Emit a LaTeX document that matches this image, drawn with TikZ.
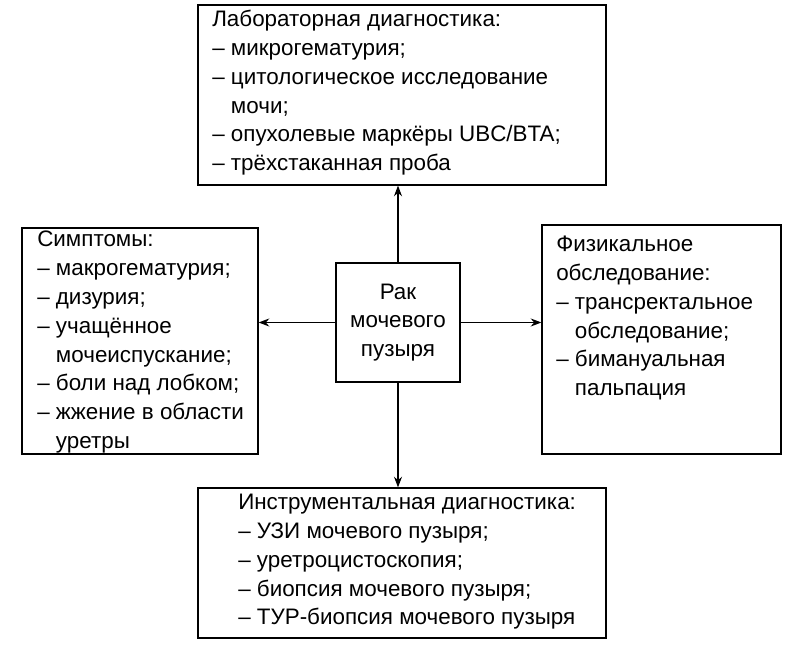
\documentclass[tikz,border=0pt]{standalone}
\usepackage{fontspec}
\setmainfont{Liberation Sans}
\usetikzlibrary{arrows.meta, positioning}
\newcommand{\ind}{\phantom{– }}

\begin{document}
\begin{tikzpicture}[x=0.75pt, y=-0.75pt,
    box/.style={rectangle, draw, line width=0.9pt, inner sep=0pt},
    txt/.style={anchor=north west, align=left, inner sep=0pt,
                font=\fontsize{16.8}{21.6}\selectfont},
    link/.style={-{Stealth[length=8pt,width=6pt]}, line width=0.8pt}
]
    \useasboundingbox (0,0) rectangle (797,648);

    % boxes
    \node[box, minimum width=408*0.75pt, minimum height=180*0.75pt] (lab) at (402,95) {};
    \node[box, minimum width=236*0.75pt, minimum height=226*0.75pt] (symp) at (140,341) {};
    \node[box, minimum width=124*0.75pt, minimum height=119*0.75pt] (cancer) at (398,322.5) {};
    \node[box, minimum width=239*0.75pt, minimum height=229*0.75pt] (phys) at (661.5,339.5) {};
    \node[box, minimum width=408*0.75pt, minimum height=150*0.75pt] (instr) at (402,563) {};

    % texts
    \node[txt] (labtxt) at (212,10) {Лабораторная диагностика:\\
      – микрогематурия;\\
      – цитологическое исследование\\
      \ind мочи;\\
      – опухолевые маркёры UBC/BTA;\\
      – трёхстаканная проба};
    \node[txt] (symptxt) at (37,231) {Симптомы:\\
      – макрогематурия;\\
      – дизурия;\\
      – учащённое\\
      \ind мочеиспускание;\\
      – боли над лобком;\\
      – жжение в области\\
      \ind уретры};
    \node[txt, align=center, anchor=center] (cancertxt) at (398,322.5) {Рак\\мочевого\\пузыря};
    \node[txt] (phystxt) at (556,236) {Физикальное\\
      обследование:\\
      – трансректальное\\
      \ind обследование;\\
      – бимануальная\\
      \ind пальпация};
    \node[txt] (instrtxt) at (238,494) {Инструментальная диагностика:\\
      – УЗИ мочевого пузыря;\\
      – уретроцистоскопия;\\
      – биопсия мочевого пузыря;\\
      – ТУР-биопсия мочевого пузыря};

    % arrows
    \draw[link] (cancer.north) -- (cancer.north |- lab.south);
    \draw[link] (cancer.south) -- (cancer.south |- instr.north);
    \draw[link] (cancer.west) -- (symp.east |- cancer.west);
    \draw[link] (cancer.east) -- (phys.west |- cancer.east);
\end{tikzpicture}
\end{document}
